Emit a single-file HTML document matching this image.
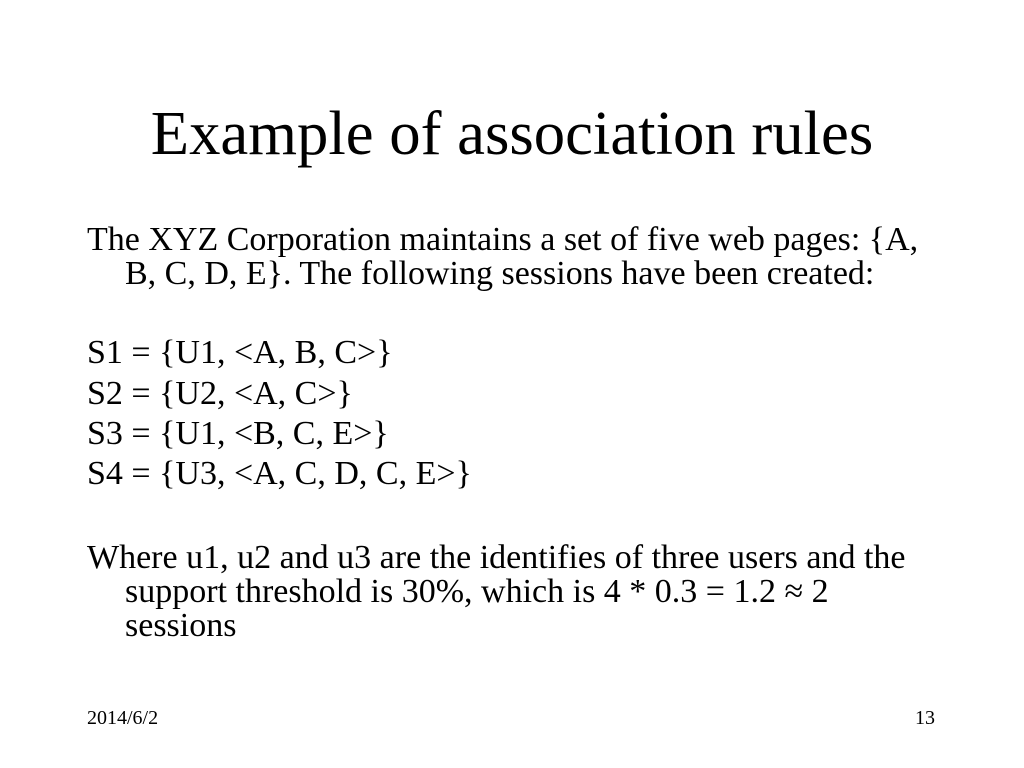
<!DOCTYPE html>
<html>
<head>
<meta charset="utf-8">
<style>
  html, body { margin: 0; padding: 0; background: #ffffff; }
  .slide { position: relative; width: 1024px; height: 768px; overflow: hidden; background: #fff; color: #000;
           font-family: "Liberation Serif", "Times New Roman", serif; }
  .title { position: absolute; left: 0; top: 101.5px; width: 1024px; text-align: center;
           font-size: 62.7px; line-height: 62.7px; white-space: nowrap; }
  .ln { position: absolute; font-size: 34px; line-height: 34px; white-space: nowrap; }
  .ft { position: absolute; font-size: 20px; line-height: 20px; white-space: nowrap; top: 708px; }
</style>
</head>
<body>
<div class="slide">
  <div class="title">Example of association rules</div>

  <div class="ln" style="left:87px; top:223px;">The XYZ Corporation maintains a set of five web pages: {A,</div>
  <div class="ln" style="left:125px; top:257px;">B, C, D, E}. The following sessions have been created:</div>

  <div class="ln" style="left:87px; top:335.5px;">S1 = {U1, &lt;A, B, C&gt;}</div>
  <div class="ln" style="left:87px; top:376.5px;">S2 = {U2, &lt;A, C&gt;}</div>
  <div class="ln" style="left:87px; top:416.5px;">S3 = {U1, &lt;B, C, E&gt;}</div>
  <div class="ln" style="left:87px; top:456.5px;">S4 = {U3, &lt;A, C, D, C, E&gt;}</div>

  <div class="ln" style="left:87px; top:540.5px;">Where u1, u2 and u3 are the identifies of three users and the</div>
  <div class="ln" style="left:125px; top:574.5px;">support threshold is 30%, which is 4 * 0.3 = 1.2 ≈ 2</div>
  <div class="ln" style="left:125px; top:608.5px;">sessions</div>

  <div class="ft" style="left:87px;">2014/6/2</div>
  <div class="ft" style="left:835px; width:100px; text-align:right;">13</div>
</div>
</body>
</html>
